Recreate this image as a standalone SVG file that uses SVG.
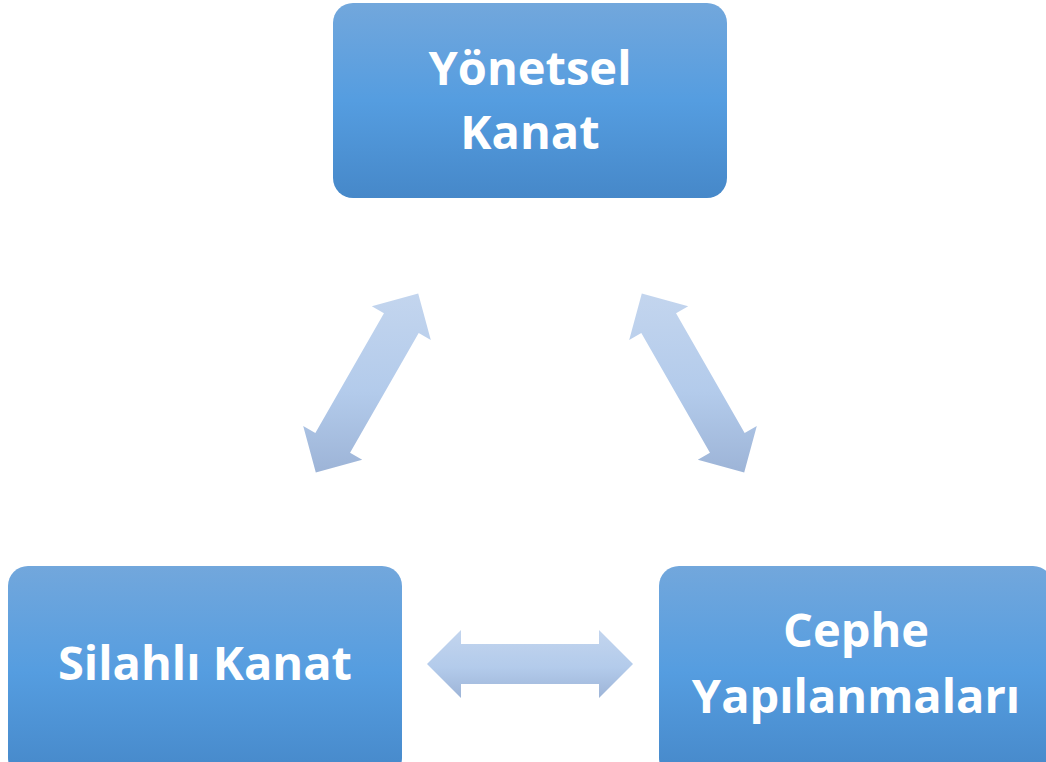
<svg xmlns="http://www.w3.org/2000/svg" width="1046" height="762" viewBox="0 0 1046 762">
<defs>
<linearGradient id="boxg" x1="0" y1="0" x2="0" y2="1">
<stop offset="0" stop-color="#72a7dc"/>
<stop offset="0.5" stop-color="#559de0"/>
<stop offset="1" stop-color="#4688c9"/>
</linearGradient>
<linearGradient id="arrg" x1="0" y1="0" x2="0" y2="1">
<stop offset="0" stop-color="#c3d5ee"/>
<stop offset="0.55" stop-color="#b3cbeb"/>
<stop offset="1" stop-color="#9db4d7"/>
</linearGradient>
<style>
.box{fill:url(#boxg);}
.arr{fill:url(#arrg);}
.lbl{font-family:"Open Sans",Lato,sans-serif;font-weight:700;font-size:47px;fill:#ffffff;text-anchor:middle;}
</style>
</defs>
<g id="connectors">
<path class="arr" d="M418.2,293.6 L430.8,340 L418.7,333 L350.05,452.8 L362.2,459.8 L315.8,472.4 L303.2,426 L315.35,432.96 L383.95,313.2 L371.8,306.2 Z"/>
<path class="arr" d="M641.8,293.6 L629.2,340 L641.3,333 L709.95,452.8 L697.8,459.8 L744.2,472.4 L756.8,426 L744.65,432.96 L676.05,313.2 L688.2,306.2 Z"/>
<path class="arr" d="M427,664 L461,630 L461,644 L599,644 L599,630 L633,664 L599,698 L599,684 L461,684 L461,698 Z"/>
</g>
<g id="node-yonetsel">
<rect class="box" x="333" y="3" width="394" height="195" rx="20"/>
<text class="lbl" x="530" y="85">Yönetsel</text>
<text class="lbl" x="530" y="149">Kanat</text>
</g>
<g id="node-silahli">
<rect class="box" x="8" y="566" width="394" height="212" rx="20"/>
<text class="lbl" x="205" y="680">Silahlı Kanat</text>
</g>
<g id="node-cephe">
<rect class="box" x="659" y="566" width="394" height="212" rx="20"/>
<text class="lbl" x="856" y="647">Cephe</text>
<text class="lbl" x="856" y="713">Yapılanmaları</text>
</g>
</svg>
